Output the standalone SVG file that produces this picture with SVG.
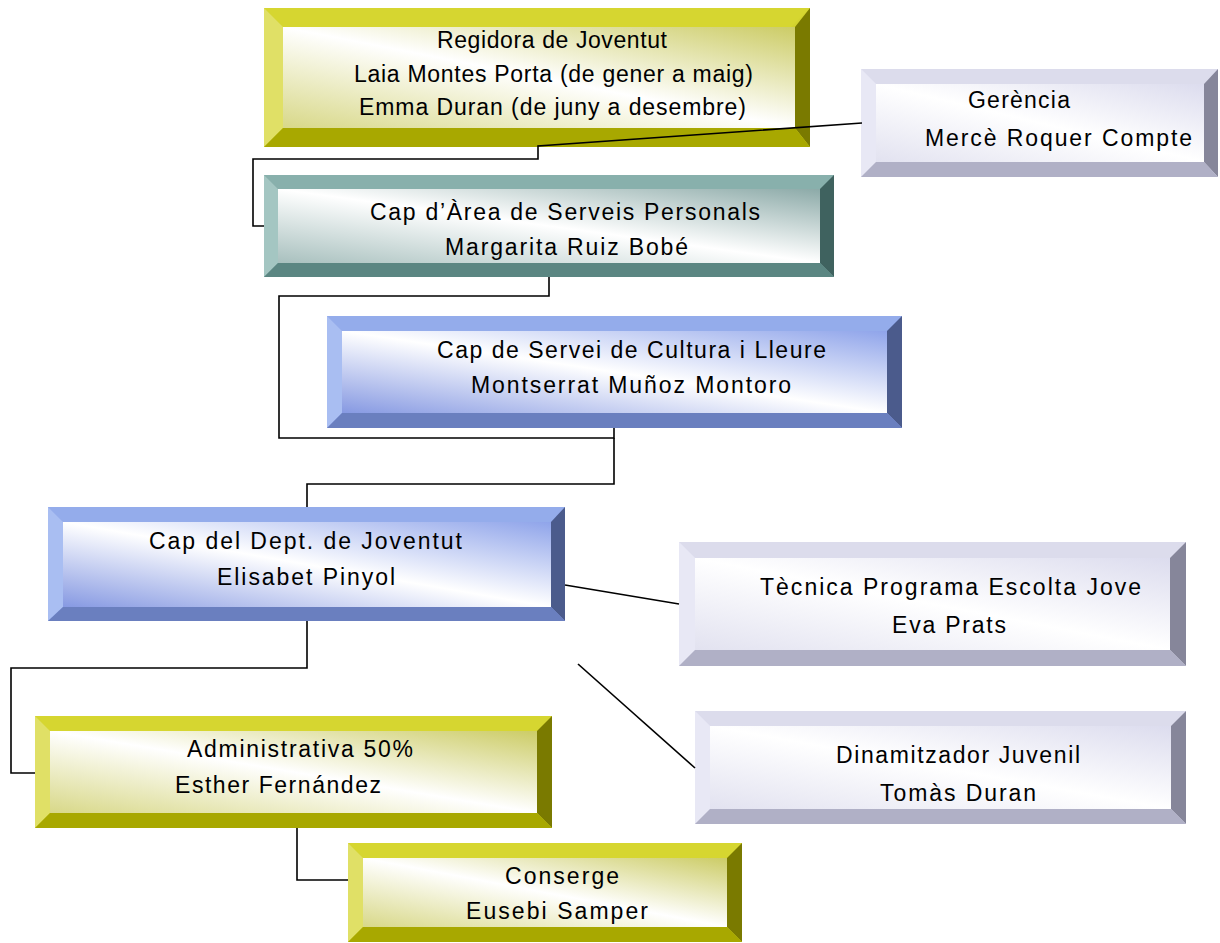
<svg xmlns="http://www.w3.org/2000/svg" width="1220" height="943" viewBox="0 0 1220 943">
<style>
.t{font-family:"Liberation Sans",Arial,sans-serif;font-size:23px;fill:#000}
.c{fill:none;stroke:#000;stroke-width:1.6}
.y .bd{fill:#D2D22E}.y .tp{fill:#D6D630}.y .lf{fill:#E0E066}.y .rt{fill:#7A7A00}.y .bt{fill:#A8A800}.y .in{fill:url(#gy)}
.g .bd{fill:#80A8A4}.g .tp{fill:#88B0AC}.g .lf{fill:#A4C6C2}.g .rt{fill:#3F625F}.g .bt{fill:#5B8682}.g .in{fill:url(#gg)}
.b .bd{fill:#8CA5EB}.b .tp{fill:#94ACEB}.b .lf{fill:#A9BEF2}.b .rt{fill:#4B5B8C}.b .bt{fill:#6A7FBF}.b .in{fill:url(#gb)}
.l .bd{fill:#E0E0F0}.l .tp{fill:#DCDCEC}.l .lf{fill:#E8E8F5}.l .rt{fill:#86869A}.l .bt{fill:#B0B0C6}.l .in{fill:url(#gl)}
</style>
<defs>
<linearGradient id="gy" x1="1" y1="0" x2="0" y2="1"><stop offset="0" stop-color="#CCCC66"/><stop offset="0.5" stop-color="#FFFFFF"/><stop offset="1" stop-color="#D8D888"/></linearGradient>
<linearGradient id="gg" x1="1" y1="0" x2="0" y2="1"><stop offset="0" stop-color="#8CAAA8"/><stop offset="0.5" stop-color="#FFFFFF"/><stop offset="1" stop-color="#A8C0BE"/></linearGradient>
<linearGradient id="gb" x1="1" y1="0" x2="0" y2="1"><stop offset="0" stop-color="#8FA4EA"/><stop offset="0.5" stop-color="#FFFFFF"/><stop offset="1" stop-color="#8699E2"/></linearGradient>
<linearGradient id="gl" x1="1" y1="0" x2="0" y2="1"><stop offset="0" stop-color="#DCDCEE"/><stop offset="0.5" stop-color="#FFFFFF"/><stop offset="1" stop-color="#E2E2F0"/></linearGradient>
</defs>
<rect width="1220" height="943" fill="#fff"/>

<g id="regidora" class="y">
<rect class="bd" x="264" y="8" width="546" height="139"/>
<polygon class="tp" points="264,8 810,8 791,27 283,27"/>
<polygon class="lf" points="264,8 283,27 283,128 264,147"/>
<polygon class="rt" points="810,8 810,147 795,128 795,27"/>
<polygon class="bt" points="264,147 283,128 795,128 810,147"/>
<rect class="in" x="283" y="27" width="512" height="101"/>
<text class="t" x="437" y="48" textLength="230" lengthAdjust="spacing">Regidora de Joventut</text>
<text class="t" x="354" y="82" textLength="399" lengthAdjust="spacing">Laia Montes Porta (de gener a maig)</text>
<text class="t" x="359" y="115" textLength="387" lengthAdjust="spacing">Emma Duran (de juny a desembre)</text>
</g>

<g id="gerencia" class="l">
<rect class="bd" x="861" y="69" width="357" height="108"/>
<polygon class="tp" points="861,69 1218,69 1204,84 876,84"/>
<polygon class="lf" points="861,69 876,84 876,162 861,177"/>
<polygon class="rt" points="1218,69 1218,177 1204,162 1204,84"/>
<polygon class="bt" points="861,177 876,162 1204,162 1218,177"/>
<rect class="in" x="876" y="84" width="328" height="78"/>
<text class="t" x="968" y="108" textLength="102" lengthAdjust="spacing">Gerència</text>
<text class="t" x="925" y="146" textLength="267" lengthAdjust="spacing">Mercè Roquer Compte</text>
</g>

<g id="cap-area" class="g">
<rect class="bd" x="264" y="175" width="570" height="102"/>
<polygon class="tp" points="264,175 834,175 820,189 278,189"/>
<polygon class="lf" points="264,175 278,189 278,263 264,277"/>
<polygon class="rt" points="834,175 834,277 820,263 820,189"/>
<polygon class="bt" points="264,277 278,263 820,263 834,277"/>
<rect class="in" x="278" y="189" width="542" height="74"/>
<text class="t" x="370" y="220" textLength="390" lengthAdjust="spacing">Cap d’Àrea de Serveis Personals</text>
<text class="t" x="445" y="255" textLength="243" lengthAdjust="spacing">Margarita Ruiz Bobé</text>
</g>

<g id="cap-servei" class="b">
<rect class="bd" x="327" y="316" width="575" height="112"/>
<polygon class="tp" points="327,316 902,316 887,331 342,331"/>
<polygon class="lf" points="327,316 342,331 342,413 327,428"/>
<polygon class="rt" points="902,316 902,428 887,413 887,331"/>
<polygon class="bt" points="327,428 342,413 887,413 902,428"/>
<rect class="in" x="342" y="331" width="545" height="82"/>
<text class="t" x="437" y="358" textLength="389" lengthAdjust="spacing">Cap de Servei de Cultura i Lleure</text>
<text class="t" x="471" y="393" textLength="320" lengthAdjust="spacing">Montserrat Muñoz Montoro</text>
</g>

<g id="cap-dept" class="b">
<rect class="bd" x="48" y="507" width="517" height="114"/>
<polygon class="tp" points="48,507 565,507 551,522 63,522"/>
<polygon class="lf" points="48,507 63,522 63,607 48,621"/>
<polygon class="rt" points="565,507 565,621 551,607 551,522"/>
<polygon class="bt" points="48,621 63,607 551,607 565,621"/>
<rect class="in" x="63" y="522" width="488" height="85"/>
<text class="t" x="149" y="549" textLength="313" lengthAdjust="spacing">Cap del Dept. de Joventut</text>
<text class="t" x="217" y="585" textLength="178" lengthAdjust="spacing">Elisabet Pinyol</text>
</g>

<g id="tecnica" class="l">
<rect class="bd" x="679" y="542" width="507" height="124"/>
<polygon class="tp" points="679,542 1186,542 1170,558 695,558"/>
<polygon class="lf" points="679,542 695,558 695,650 679,666"/>
<polygon class="rt" points="1186,542 1186,666 1170,650 1170,558"/>
<polygon class="bt" points="679,666 695,650 1170,650 1186,666"/>
<rect class="in" x="695" y="558" width="475" height="92"/>
<text class="t" x="760" y="595" textLength="381" lengthAdjust="spacing">Tècnica Programa Escolta Jove</text>
<text class="t" x="892" y="633" textLength="114" lengthAdjust="spacing">Eva Prats</text>
</g>

<g id="dinamitzador" class="l">
<rect class="bd" x="695" y="711" width="491" height="113"/>
<polygon class="tp" points="695,711 1186,711 1171,726 710,726"/>
<polygon class="lf" points="695,711 710,726 710,809 695,824"/>
<polygon class="rt" points="1186,711 1186,824 1171,809 1171,726"/>
<polygon class="bt" points="695,824 710,809 1171,809 1186,824"/>
<rect class="in" x="710" y="726" width="461" height="83"/>
<text class="t" x="836" y="763" textLength="244" lengthAdjust="spacing">Dinamitzador Juvenil</text>
<text class="t" x="880" y="801" textLength="156" lengthAdjust="spacing">Tomàs Duran</text>
</g>

<g id="administrativa" class="y">
<rect class="bd" x="35" y="716" width="517" height="112"/>
<polygon class="tp" points="35,716 552,716 537,731 50,731"/>
<polygon class="lf" points="35,716 50,731 50,813 35,828"/>
<polygon class="rt" points="552,716 552,828 537,813 537,731"/>
<polygon class="bt" points="35,828 50,813 537,813 552,828"/>
<rect class="in" x="50" y="731" width="487" height="82"/>
<text class="t" x="187" y="757" textLength="226" lengthAdjust="spacing">Administrativa 50%</text>
<text class="t" x="175" y="793" textLength="206" lengthAdjust="spacing">Esther Fernández</text>
</g>

<g id="conserge" class="y">
<rect class="bd" x="348" y="843" width="394" height="99"/>
<polygon class="tp" points="348,843 742,843 727,858 363,858"/>
<polygon class="lf" points="348,843 363,858 363,927 348,942"/>
<polygon class="rt" points="742,843 742,942 727,927 727,858"/>
<polygon class="bt" points="348,942 363,927 727,927 742,942"/>
<rect class="in" x="363" y="858" width="364" height="69"/>
<text class="t" x="505" y="884" textLength="114" lengthAdjust="spacing">Conserge</text>
<text class="t" x="466" y="919" textLength="182" lengthAdjust="spacing">Eusebi Samper</text>
</g>

<g id="connectors">
<polyline class="c" points="862,123 538,146 538,159 253,159 253,226 264,226"/>
<polyline class="c" points="549,277 549,296 279,296 279,438 614,438 614,428"/>
<polyline class="c" points="614,438 614,484 307,484 307,507"/>
<line class="c" x1="565" y1="585" x2="679" y2="604"/>
<line class="c" x1="578" y1="664" x2="695" y2="768"/>
<polyline class="c" points="307,621 307,668 11,668 11,773 35,773"/>
<polyline class="c" points="297,828 297,880 348,880"/>
</g>
</svg>
